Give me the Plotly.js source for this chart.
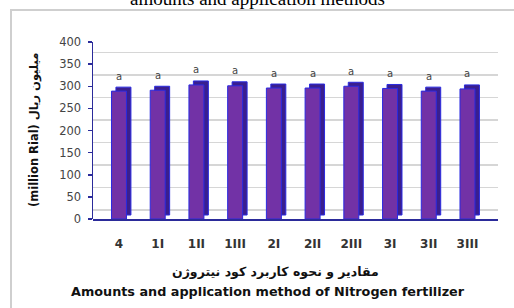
<!DOCTYPE html>
<html>
<head>
<meta charset="utf-8">
<script src="https://cdn.plot.ly/plotly-3.0.1.min.js"></script>
<style>html,body{margin:0;padding:0;background:#fff;}#chart{width:514px;height:308px;}</style>
</head>
<body>
<div id="chart"></div>
<script>
// ---- data ----
const categories = ["4", "1I", "1II", "1III", "2I", "2II", "2III", "3I", "3II", "3III"];
const values = [289, 291, 303, 301, 296, 296, 300, 295, 289, 294];
const letters = ["a", "a", "a", "a", "a", "a", "a", "a", "a", "a"];
const yTicks = [0, 50, 100, 150, 200, 250, 300, 350, 400];
const titleText = "amounts and application methods";
const yTitleText = "(million Rial) میلیون ریال";
const xTitleFa = "مقادیر و نحوه کاربرد کود نیتروژن";
const xTitleEn = "Amounts and application method of Nitrogen fertilizer";

// ---- layout geometry (pixels) ----
const W = 514, H = 308;
const L = 93, R = 498, T = 30, B = 219;
const pw = R - L, ph = B - T;
const px = x => (x - L) / pw;
const py = y => (B - y) / ph;

const frontW = 0.387;
const sideShift = 0.115;
const depthBase = 9;

const idx = categories.map((c, i) => i);

// back-wall grid (subplot xy, drawn first)
const gridTrace = {type: "scatter", x: [0], y: [0], xaxis: "x", yaxis: "y", mode: "markers",
  marker: {opacity: 0}, hoverinfo: "skip", showlegend: false};

// bars (subplot xy2, drawn over the grid)
const sideTrace = {
  type: "bar", x: idx, y: values, base: depthBase, xaxis: "x", yaxis: "y2",
  width: frontW, offset: -frontW / 2 + sideShift,
  marker: {color: "#3a1f8f", line: {color: "#2a2ae0", width: 1}},
  hoverinfo: "skip", showlegend: false
};
const frontTrace = {
  type: "bar", x: idx, y: values, xaxis: "x", yaxis: "y2",
  width: frontW, offset: -frontW / 2,
  marker: {color: "#7232a6", line: {color: "#2a2ae0", width: 1}},
  showlegend: false
};

const annotations = [];
values.forEach((v, i) => annotations.push({
  x: i, y: v, xref: "x", yref: "y2", text: letters[i], showarrow: false,
  yanchor: "middle", yshift: 15,
  font: {family: "DejaVu Sans", size: 10, color: "#444"}
}));
annotations.push({
  x: px(257), y: py(-2), xref: "paper", yref: "paper", text: titleText, showarrow: false,
  xanchor: "center", yanchor: "middle",
  font: {family: "Liberation Serif", size: 19, color: "#000"}
});
annotations.push({
  x: px(34), y: py(130), xref: "paper", yref: "paper", text: "<b>" + yTitleText + "</b>", showarrow: false,
  textangle: -90, xanchor: "center", yanchor: "middle",
  font: {family: "DejaVu Sans", size: 11.5, color: "#111"}
});
annotations.push({
  x: px(275), y: py(271), xref: "paper", yref: "paper", text: "<b>" + xTitleFa + "</b>", showarrow: false,
  xanchor: "center", yanchor: "middle",
  font: {family: "DejaVu Sans", size: 12.5, color: "#111"}
});
annotations.push({
  x: px(268), y: py(291), xref: "paper", yref: "paper", text: "<b>" + xTitleEn + "</b>", showarrow: false,
  xanchor: "center", yanchor: "middle",
  font: {family: "DejaVu Sans", size: 12.8, color: "#111"}
});

const layout = {
  width: W, height: H,
  margin: {l: L, r: W - R, t: T, b: H - B, pad: 0},
  paper_bgcolor: "#fff", plot_bgcolor: "rgba(0,0,0,0)",
  barmode: "overlay",
  showlegend: false,
  xaxis: {
    type: "linear", range: [-0.671, 9.788], anchor: "y",
    tickmode: "array", tickvals: idx, ticktext: categories.map(c => "<b>" + c + "</b>"),
    showgrid: false, zeroline: false, showline: true, linecolor: "#2b2b9a", linewidth: 1.5,
    ticks: "", ticklabelstandoff: 13,
    tickfont: {family: "DejaVu Sans", size: 12, color: "#333"}
  },
  yaxis: {
    range: [-20, 400], domain: [0, 1], anchor: "x",
    tickmode: "array", tickvals: yTicks,
    showticklabels: false, ticks: "", showline: false, zeroline: false,
    showgrid: true, gridcolor: "#d6d6d6", gridwidth: 1.5
  },
  yaxis2: {
    range: [0, 400], domain: [0, py(42)], anchor: "x",
    tickmode: "array", tickvals: yTicks,
    showgrid: false, zeroline: false, showline: true, linecolor: "#2b2b9a", linewidth: 1.5,
    ticks: "outside", ticklen: 4, tickcolor: "#2b2b9a", tickwidth: 1.5, ticklabelstandoff: 4,
    tickfont: {family: "DejaVu Sans", size: 11.5, color: "#444"}
  },
  shapes: [{
    type: "rect", xref: "paper", yref: "paper",
    x0: px(11), x1: px(530), y0: py(10), y1: py(330),
    line: {color: "#cfcfcf", width: 2}, fillcolor: "rgba(0,0,0,0)", layer: "below"
  }],
  annotations: annotations
};

Plotly.newPlot("chart", [gridTrace, sideTrace, frontTrace], layout, {displayModeBar: false, staticPlot: true});
</script>
</body>
</html>
